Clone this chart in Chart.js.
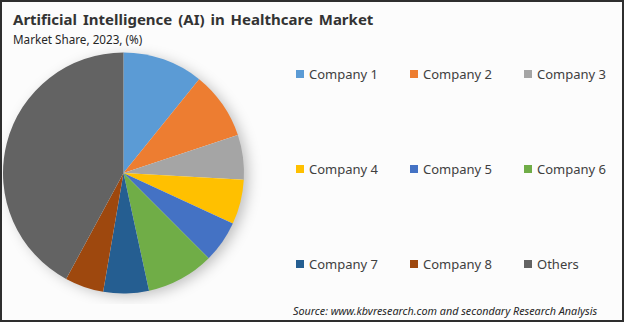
<!DOCTYPE html>
<html>
<head>
<meta charset="utf-8">
<script src="https://cdn.jsdelivr.net/npm/chart.js@4.4.0/dist/chart.umd.min.js"></script>
<style>
  html, body { margin: 0; padding: 0; }
  body {
    width: 624px; height: 322px; box-sizing: border-box;
    border: 2px solid #2e2e2e; background: #fcfcfc;
    position: relative; overflow: hidden;
    font-family: "Noto Sans", "Open Sans", sans-serif; color: #262626;
  }
  #title { position: absolute; left: 11px; top: 7px; font-size: 15px; font-weight: bold; color: #333; word-spacing: 2px; }
  #subtitle { position: absolute; left: 11px; top: 29px; font-size: 11.7px; color: #262626; }
  #pieWrap { position: absolute; left: -1px; top: 40px; width: 263px; height: 262px; }
  #legend {
    position: absolute; left: 294px; top: 62px;
    display: grid; grid-template-columns: 114px 114px 100px; grid-auto-rows: 95px;
    font-size: 13px; color: #404040;
  }
  .item { display: flex; align-items: flex-start; height: 20px; line-height: 20px; }
  .box { width: 8px; height: 8px; margin: 6px 5px 0 0; }
  #source { position: absolute; left: 291px; top: 301px; font-size: 10.8px; font-style: italic; color: #262626; }
</style>
</head>
<body>
<div id="title">Artificial Intelligence (AI) in Healthcare Market</div>
<div id="subtitle">Market Share, 2023, (%)</div>
<div id="pieWrap"><canvas id="pie"></canvas></div>
<div id="legend"></div>
<div id="source">Source: www.kbvresearch.com and secondary Research Analysis</div>
<script>
var labels = ['Company 1', 'Company 2', 'Company 3', 'Company 4', 'Company 5', 'Company 6', 'Company 7', 'Company 8', 'Others'];
var shares = [10.8, 9.1, 6.0, 6.0, 5.6, 9.1, 6.1, 5.2, 42.1];
var colors = ['#5B9BD5', '#ED7D31', '#A5A5A5', '#FFC000', '#4472C4', '#70AD47', '#255E91', '#9E480E', '#636363'];

// soft shadow behind the whole pie, drawn once before the slices
var pieShadow = {
  id: 'pieShadow',
  beforeDatasetsDraw: function(chart) {
    var arc = chart.getDatasetMeta(0).data[0];
    if (!arc) return;
    var ctx = chart.ctx;
    ctx.save();
    ctx.shadowColor = 'rgba(0,0,0,0.25)';
    ctx.shadowBlur = 14;
    ctx.shadowOffsetX = 5;
    ctx.shadowOffsetY = 3;
    ctx.fillStyle = '#fcfcfc';
    ctx.beginPath();
    ctx.arc(arc.x, arc.y, arc.outerRadius - 1, 0, Math.PI * 2);
    ctx.fill();
    ctx.restore();
  }
};

var chart = new Chart(document.getElementById('pie'), {
  type: 'pie',
  data: {
    labels: labels,
    datasets: [{ data: shares, backgroundColor: colors, borderWidth: 0 }]
  },
  options: {
    responsive: true,
    maintainAspectRatio: false,
    animation: false,
    layout: { padding: { left: 2, right: 20, top: 10, bottom: 10 } },
    plugins: { legend: { display: false }, tooltip: { enabled: false } }
  },
  plugins: [pieShadow]
});

var legend = document.getElementById('legend');
labels.forEach(function(name, i) {
  var item = document.createElement('div');
  item.className = 'item';
  item.innerHTML = '<span class="box" style="background:' + colors[i] + '"></span>' + name;
  legend.appendChild(item);
});
</script>
</body>
</html>
